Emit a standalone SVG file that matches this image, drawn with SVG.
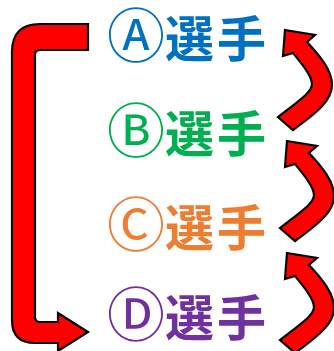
<svg xmlns="http://www.w3.org/2000/svg" xmlns:xlink="http://www.w3.org/1999/xlink" width="334" height="351" viewBox="0 0 334 351">
<style>
.lbl{font-family:"Noto Sans CJK JP","Noto Sans CJK SC",sans-serif;font-size:49px;font-weight:bold;letter-spacing:3px}
.circ{font-family:"DejaVu Sans","Noto Sans CJK JP",sans-serif;font-size:58px;font-weight:normal;letter-spacing:0}
.arr{fill:#FF0000;stroke:#000;stroke-width:2.2;stroke-linejoin:miter}
</style>
<defs>
<path id="curl" d="M285,30 L315,35 L307,42 C320,56 332,70 332,85 C332,100 318,112 293,130 L278,117 C300,100 312,92 312,84 C312,76 302,64 293,53 L283,56 Z"/>
</defs>
<rect width="334" height="351" fill="#fff"/>
<g id="connectors">
<path class="arr" d="M88,24 L40,24 Q12,24 12,52 L12,320 Q12,343 35,343 L58,343 L58,351 L88,332 L58,313 L58,322 L40,322 Q35,322 35,317 L35,55 Q35,50 40,50 L88,50 Z"/>
<use class="arr" xlink:href="#curl"/>
<use class="arr" xlink:href="#curl" transform="translate(2,111)"/>
<use class="arr" xlink:href="#curl" transform="translate(2,223)"/>
</g>
<g id="nodeA"><text class="lbl" x="107" y="57" fill="#0070C0"><tspan class="circ">Ⓐ</tspan>選手</text></g>
<g id="nodeB"><text class="lbl" x="107" y="152" fill="#00B050"><tspan class="circ">Ⓑ</tspan>選手</text></g>
<g id="nodeC"><text class="lbl" x="107" y="246" fill="#ED7D31"><tspan class="circ">Ⓒ</tspan>選手</text></g>
<g id="nodeD"><text class="lbl" x="107" y="336" fill="#7030A0"><tspan class="circ">Ⓓ</tspan>選手</text></g>
</svg>
